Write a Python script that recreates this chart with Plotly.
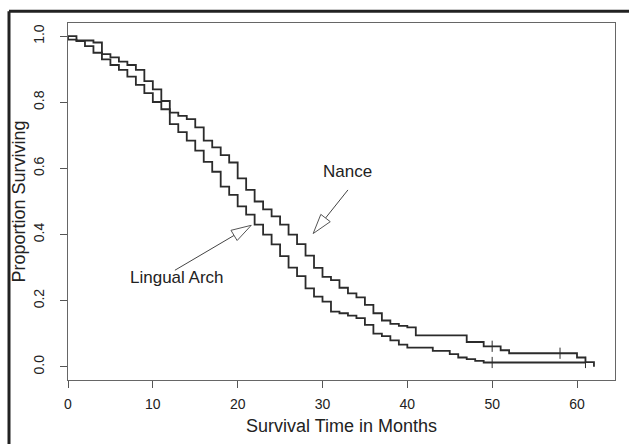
import math
import plotly.graph_objects as go

# ---- data ----
nance_t = [0, 1, 3, 4, 5, 6, 7, 8, 9, 10, 11, 12, 13, 14, 15, 16, 17, 18, 19, 20,
           21, 22, 23, 24, 25, 26, 27, 28, 29, 30, 31, 32, 33, 34, 35, 36, 37, 38,
           39, 40, 41, 47, 49, 51, 52, 60, 61, 62]
nance_s = [1.0, 0.987, 0.981, 0.946, 0.936, 0.923, 0.913, 0.898, 0.864, 0.839, 0.804,
           0.769, 0.759, 0.749, 0.724, 0.684, 0.664, 0.640, 0.618, 0.570, 0.535, 0.500,
           0.476, 0.455, 0.430, 0.400, 0.371, 0.336, 0.299, 0.272, 0.262, 0.239, 0.222,
           0.210, 0.187, 0.162, 0.140, 0.130, 0.124, 0.119, 0.095, 0.075, 0.062, 0.050,
           0.041, 0.028, 0.014, 0.0]
nance_cens_t = [50, 58]
nance_cens_s = [0.062, 0.041]

ling_t = [0, 0, 1, 2, 3, 4, 5, 6, 7, 8, 9, 10, 11, 12, 13, 14, 15, 16, 17, 18, 19,
          20, 21, 22, 23, 24, 25, 26, 27, 28, 29, 30, 31, 32, 33, 34, 35, 36, 37,
          38, 39, 40, 43, 45, 46, 47, 48, 49, 61]
ling_s = [1.0, 0.99, 0.985, 0.970, 0.950, 0.930, 0.913, 0.898, 0.878, 0.853, 0.828,
          0.801, 0.779, 0.734, 0.710, 0.684, 0.654, 0.620, 0.590, 0.545, 0.520, 0.485,
          0.460, 0.430, 0.400, 0.370, 0.335, 0.300, 0.274, 0.237, 0.212, 0.197, 0.167,
          0.162, 0.155, 0.147, 0.127, 0.100, 0.093, 0.080, 0.067, 0.058, 0.048, 0.038,
          0.028, 0.023, 0.018, 0.013, 0.013]
ling_cens_t = [50, 61]
ling_cens_s = [0.013, 0.013]

x_ticks = [0, 10, 20, 30, 40, 50, 60]
y_ticks = [0.0, 0.2, 0.4, 0.6, 0.8, 1.0]

# ---- layout geometry ----
W, H = 629, 444
ML, MR, MT, MB = 68, 14, 23, 60
XR = [0, 64.48]
YR = [-0.04, 1.04]
PW, PH = W - ML - MR, H - MT - MB
pxx = PW / (XR[1] - XR[0])
pxy = PH / (YR[1] - YR[0])

LINE = "#2b2b2b"
FONT = "Liberation Sans, Arial, sans-serif"

fig = go.Figure()
fig.add_trace(go.Scatter(x=nance_t, y=nance_s, mode="lines", line_shape="hv",
                         line=dict(color=LINE, width=1.8), name="Nance", showlegend=False))
fig.add_trace(go.Scatter(x=ling_t, y=ling_s, mode="lines", line_shape="hv",
                         line=dict(color=LINE, width=1.8), name="Lingual Arch", showlegend=False))
for ct, cs in ((nance_cens_t, nance_cens_s), (ling_cens_t, ling_cens_s)):
    fig.add_trace(go.Scatter(x=ct, y=cs, mode="markers", showlegend=False,
                             marker=dict(symbol="line-ns", size=8,
                                         line=dict(color=LINE, width=1))))


def arrow(tail, tip, L=20, Wd=12):
    dx = (tip[0] - tail[0]) * pxx
    dy = (tip[1] - tail[1]) * pxy
    n = math.hypot(dx, dy)
    ux, uy = dx / n, dy / n
    bx, by = -L * ux, -L * uy
    px, py = -uy * Wd / 2, ux * Wd / 2
    base = (tip[0] + bx / pxx, tip[1] + by / pxy)
    v1 = (tip[0] + (bx + px) / pxx, tip[1] + (by + py) / pxy)
    v2 = (tip[0] + (bx - px) / pxx, tip[1] + (by - py) / pxy)
    fig.add_shape(type="line", x0=tail[0], y0=tail[1], x1=base[0], y1=base[1],
                  xref="x", yref="y", line=dict(color="#444", width=1))
    fig.add_shape(type="path", xref="x", yref="y",
                  path=f"M {tip[0]},{tip[1]} L {v1[0]},{v1[1]} L {v2[0]},{v2[1]} Z",
                  fillcolor="white", line=dict(color="#555", width=1))


arrow((12.6, 0.292), (21.6, 0.428))
arrow((33.0, 0.535), (28.9, 0.403))

fig.add_annotation(x=32.9, y=0.591, text="Nance", showarrow=False,
                   font=dict(family=FONT, size=17, color="#222"))
fig.add_annotation(x=12.9, y=0.269, text="Lingual Arch", showarrow=False,
                   font=dict(family=FONT, size=17, color="#222"))

# outer frame (cut off at right/bottom)
fx = (9 - ML) / PW
fy = (H - MB - 11) / PH
fig.add_shape(type="line", xref="paper", yref="paper", x0=fx, x1=fx, y0=-0.3, y1=fy,
              line=dict(color="#222", width=3))
fig.add_shape(type="line", xref="paper", yref="paper", x0=fx, x1=1.2, y0=fy, y1=fy,
              line=dict(color="#222", width=3))

fig.update_layout(
    width=W, height=H,
    margin=dict(l=ML, r=MR, t=MT, b=MB),
    paper_bgcolor="white", plot_bgcolor="white",
    font=dict(family=FONT, color="#222"),
    xaxis=dict(range=XR, tickvals=x_ticks, ticks="outside", ticklen=7, tickcolor="#555",
               showline=True, linecolor="#666", linewidth=1, mirror=True,
               showgrid=False, zeroline=False, tickfont=dict(size=14),
               ticklabelstandoff=4,
               title=dict(text="Survival Time in Months", font=dict(size=18), standoff=8)),
    yaxis=dict(range=YR, tickvals=y_ticks, tickformat=".1f", ticks="outside", ticklen=7,
               tickcolor="#555", showline=True, linecolor="#666", linewidth=1, mirror=True,
               showgrid=False, zeroline=False, tickangle=-90, tickfont=dict(size=14),
               ticklabelstandoff=10,
               title=dict(text="Proportion Surviving", font=dict(size=18), standoff=1)),
)

fig.write_html("out.html", config={"displayModeBar": False},
               post_script="document.body.style.margin='0px';")
